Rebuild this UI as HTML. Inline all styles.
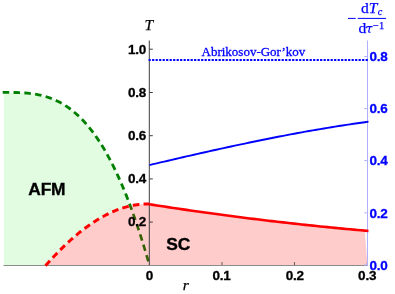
<!DOCTYPE html>
<html><head><meta charset="utf-8"><title>Phase diagram</title>
<style>
html,body{margin:0;padding:0;background:#fff;}
svg{display:block;will-change:transform;}
text{font-family:"Liberation Sans",sans-serif;}
.b{font-weight:bold;font-size:13.5px;letter-spacing:-0.2px;stroke-width:0.3px;}
.s{font-family:"Liberation Serif",serif;}
</style></head><body>
<svg width="395" height="294" viewBox="0 0 395 294">
<rect width="395" height="294" fill="#fff"/>
<path d="M3.8,92.40 L3.40,92.40 L5.25,92.40 L7.10,92.40 L8.94,92.41 L10.79,92.42 L12.64,92.44 L14.49,92.48 L16.34,92.52 L18.18,92.58 L20.03,92.66 L21.88,92.75 L23.73,92.87 L25.58,93.01 L27.43,93.17 L29.27,93.36 L31.12,93.58 L32.97,93.84 L34.82,94.12 L36.67,94.44 L38.51,94.80 L40.36,95.20 L42.21,95.65 L44.06,96.13 L45.91,96.66 L47.75,97.25 L49.60,97.88 L51.45,98.56 L53.30,99.30 L55.15,100.09 L56.99,100.95 L58.84,101.86 L60.69,102.84 L62.54,103.88 L64.39,105.00 L66.24,106.18 L68.08,107.43 L69.93,108.75 L71.78,110.15 L73.63,111.63 L75.48,113.19 L77.32,114.83 L79.17,116.56 L81.02,118.37 L82.87,120.27 L84.72,122.26 L86.56,124.34 L88.41,126.51 L90.26,128.79 L92.11,131.16 L93.96,133.63 L95.81,136.21 L97.65,138.89 L99.50,141.68 L101.35,144.58 L103.20,147.59 L105.05,150.71 L106.89,153.95 L108.74,157.31 L110.59,160.78 L112.44,164.38 L114.29,168.10 L116.13,171.95 L117.98,175.93 L119.83,180.04 L121.68,184.28 L123.53,188.65 L125.37,193.16 L127.22,197.81 L129.07,202.60 L130.92,207.54 L132.77,212.61 L134.62,217.84 L136.46,223.22 L138.31,228.74 L140.16,234.42 L142.01,240.26 L143.86,246.25 L145.70,252.41 L147.55,258.72 L149.40,265.20 L149.40,265.20 L3.8,265.20 Z" fill="#e1fce1"/>
<path d="M2.7,92.40 L3.40,92.40 L5.25,92.40 L7.10,92.40 L8.94,92.41 L10.79,92.42 L12.64,92.44 L14.49,92.48 L16.34,92.52 L18.18,92.58 L20.03,92.66 L21.88,92.75 L23.73,92.87 L25.58,93.01 L27.43,93.17 L29.27,93.36 L31.12,93.58 L32.97,93.84 L34.82,94.12 L36.67,94.44 L38.51,94.80 L40.36,95.20 L42.21,95.65 L44.06,96.13 L45.91,96.66 L47.75,97.25 L49.60,97.88 L51.45,98.56 L53.30,99.30 L55.15,100.09 L56.99,100.95 L58.84,101.86 L60.69,102.84 L62.54,103.88 L64.39,105.00 L66.24,106.18 L68.08,107.43 L69.93,108.75 L71.78,110.15 L73.63,111.63 L75.48,113.19 L77.32,114.83 L79.17,116.56 L81.02,118.37 L82.87,120.27 L84.72,122.26 L86.56,124.34 L88.41,126.51 L90.26,128.79 L92.11,131.16 L93.96,133.63 L95.81,136.21 L97.65,138.89 L99.50,141.68 L101.35,144.58 L103.20,147.59 L105.05,150.71 L106.89,153.95 L108.74,157.31 L110.59,160.78 L112.44,164.38 L114.29,168.10 L116.13,171.95 L117.98,175.93 L119.83,180.04 L121.68,184.28 L123.53,188.65 L125.37,193.16 L127.22,197.81 L129.07,202.60 L130.92,207.54 L132.77,212.61 L134.62,217.84 L136.46,223.22 L138.31,228.74 L140.16,234.42 L142.01,240.26 L143.86,246.25 L145.70,252.41 L147.55,258.72 L149.40,265.20" stroke="#007f00" stroke-width="2.8" stroke-dasharray="6.5 4.33" fill="none"/>
<path d="M45.50,265.68 L47.26,263.70 L49.02,261.74 L50.78,259.80 L52.54,257.90 L54.31,256.03 L56.07,254.18 L57.83,252.37 L59.59,250.58 L61.35,248.82 L63.11,247.10 L64.87,245.40 L66.63,243.74 L68.39,242.10 L70.15,240.50 L71.92,238.93 L73.68,237.39 L75.44,235.88 L77.20,234.40 L78.96,232.96 L80.72,231.54 L82.48,230.16 L84.24,228.81 L86.00,227.50 L87.76,226.22 L89.53,224.97 L91.29,223.75 L93.05,222.57 L94.81,221.42 L96.57,220.31 L98.33,219.23 L100.09,218.19 L101.85,217.18 L103.61,216.21 L105.37,215.27 L107.14,214.36 L108.90,213.50 L110.66,212.66 L112.42,211.87 L114.18,211.11 L115.94,210.39 L117.70,209.70 L119.46,209.05 L121.22,208.44 L122.98,207.87 L124.75,207.33 L126.51,206.83 L128.27,206.37 L130.03,205.95 L131.79,205.57 L133.55,205.23 L135.31,204.92 L137.07,204.66 L138.83,204.43 L140.59,204.24 L142.36,204.09 L144.12,203.99 L145.88,203.92 L147.64,203.90 L149.40,203.91 L149.40,204.27 L153.11,204.85 L156.83,205.43 L160.54,206.00 L164.25,206.57 L167.97,207.14 L171.68,207.70 L175.39,208.25 L179.11,208.80 L182.82,209.35 L186.54,209.89 L190.25,210.43 L193.96,210.96 L197.68,211.49 L201.39,212.01 L205.10,212.53 L208.82,213.05 L212.53,213.56 L216.24,214.06 L219.96,214.56 L223.67,215.06 L227.38,215.55 L231.10,216.04 L234.81,216.53 L238.53,217.00 L242.24,217.48 L245.95,217.95 L249.67,218.42 L253.38,218.88 L257.09,219.33 L260.81,219.79 L264.52,220.23 L268.23,220.68 L271.95,221.12 L275.66,221.55 L279.37,221.98 L283.09,222.41 L286.80,222.83 L290.52,223.24 L294.23,223.66 L297.94,224.06 L301.66,224.47 L305.37,224.87 L309.08,225.26 L312.80,225.65 L316.51,226.04 L320.22,226.42 L323.94,226.79 L327.65,227.16 L331.36,227.53 L335.08,227.89 L338.79,228.25 L342.51,228.61 L346.22,228.96 L349.93,229.30 L353.65,229.64 L357.36,229.98 L361.07,230.31 L364.79,230.64 L367.5,265.20 L45.50,265.20 Z" fill="#ffffff"/>
<clipPath id="pc"><path d="M45.50,265.68 L47.26,263.70 L49.02,261.74 L50.78,259.80 L52.54,257.90 L54.31,256.03 L56.07,254.18 L57.83,252.37 L59.59,250.58 L61.35,248.82 L63.11,247.10 L64.87,245.40 L66.63,243.74 L68.39,242.10 L70.15,240.50 L71.92,238.93 L73.68,237.39 L75.44,235.88 L77.20,234.40 L78.96,232.96 L80.72,231.54 L82.48,230.16 L84.24,228.81 L86.00,227.50 L87.76,226.22 L89.53,224.97 L91.29,223.75 L93.05,222.57 L94.81,221.42 L96.57,220.31 L98.33,219.23 L100.09,218.19 L101.85,217.18 L103.61,216.21 L105.37,215.27 L107.14,214.36 L108.90,213.50 L110.66,212.66 L112.42,211.87 L114.18,211.11 L115.94,210.39 L117.70,209.70 L119.46,209.05 L121.22,208.44 L122.98,207.87 L124.75,207.33 L126.51,206.83 L128.27,206.37 L130.03,205.95 L131.79,205.57 L133.55,205.23 L135.31,204.92 L137.07,204.66 L138.83,204.43 L140.59,204.24 L142.36,204.09 L144.12,203.99 L145.88,203.92 L147.64,203.90 L149.40,203.91 L149.40,204.27 L153.11,204.85 L156.83,205.43 L160.54,206.00 L164.25,206.57 L167.97,207.14 L171.68,207.70 L175.39,208.25 L179.11,208.80 L182.82,209.35 L186.54,209.89 L190.25,210.43 L193.96,210.96 L197.68,211.49 L201.39,212.01 L205.10,212.53 L208.82,213.05 L212.53,213.56 L216.24,214.06 L219.96,214.56 L223.67,215.06 L227.38,215.55 L231.10,216.04 L234.81,216.53 L238.53,217.00 L242.24,217.48 L245.95,217.95 L249.67,218.42 L253.38,218.88 L257.09,219.33 L260.81,219.79 L264.52,220.23 L268.23,220.68 L271.95,221.12 L275.66,221.55 L279.37,221.98 L283.09,222.41 L286.80,222.83 L290.52,223.24 L294.23,223.66 L297.94,224.06 L301.66,224.47 L305.37,224.87 L309.08,225.26 L312.80,225.65 L316.51,226.04 L320.22,226.42 L323.94,226.79 L327.65,227.16 L331.36,227.53 L335.08,227.89 L338.79,228.25 L342.51,228.61 L346.22,228.96 L349.93,229.30 L353.65,229.64 L357.36,229.98 L361.07,230.31 L364.79,230.64 L367.5,265.20 L45.50,265.20 Z"/></clipPath>
<path d="M2.7,92.40 L3.40,92.40 L5.25,92.40 L7.10,92.40 L8.94,92.41 L10.79,92.42 L12.64,92.44 L14.49,92.48 L16.34,92.52 L18.18,92.58 L20.03,92.66 L21.88,92.75 L23.73,92.87 L25.58,93.01 L27.43,93.17 L29.27,93.36 L31.12,93.58 L32.97,93.84 L34.82,94.12 L36.67,94.44 L38.51,94.80 L40.36,95.20 L42.21,95.65 L44.06,96.13 L45.91,96.66 L47.75,97.25 L49.60,97.88 L51.45,98.56 L53.30,99.30 L55.15,100.09 L56.99,100.95 L58.84,101.86 L60.69,102.84 L62.54,103.88 L64.39,105.00 L66.24,106.18 L68.08,107.43 L69.93,108.75 L71.78,110.15 L73.63,111.63 L75.48,113.19 L77.32,114.83 L79.17,116.56 L81.02,118.37 L82.87,120.27 L84.72,122.26 L86.56,124.34 L88.41,126.51 L90.26,128.79 L92.11,131.16 L93.96,133.63 L95.81,136.21 L97.65,138.89 L99.50,141.68 L101.35,144.58 L103.20,147.59 L105.05,150.71 L106.89,153.95 L108.74,157.31 L110.59,160.78 L112.44,164.38 L114.29,168.10 L116.13,171.95 L117.98,175.93 L119.83,180.04 L121.68,184.28 L123.53,188.65 L125.37,193.16 L127.22,197.81 L129.07,202.60 L130.92,207.54 L132.77,212.61 L134.62,217.84 L136.46,223.22 L138.31,228.74 L140.16,234.42 L142.01,240.26 L143.86,246.25 L145.70,252.41 L147.55,258.72 L149.40,265.20" stroke="#007800" stroke-width="2.6" stroke-dasharray="6.5 4.33" fill="none" clip-path="url(#pc)"/>
<path d="M45.50,265.68 L47.26,263.70 L49.02,261.74 L50.78,259.80 L52.54,257.90 L54.31,256.03 L56.07,254.18 L57.83,252.37 L59.59,250.58 L61.35,248.82 L63.11,247.10 L64.87,245.40 L66.63,243.74 L68.39,242.10 L70.15,240.50 L71.92,238.93 L73.68,237.39 L75.44,235.88 L77.20,234.40 L78.96,232.96 L80.72,231.54 L82.48,230.16 L84.24,228.81 L86.00,227.50 L87.76,226.22 L89.53,224.97 L91.29,223.75 L93.05,222.57 L94.81,221.42 L96.57,220.31 L98.33,219.23 L100.09,218.19 L101.85,217.18 L103.61,216.21 L105.37,215.27 L107.14,214.36 L108.90,213.50 L110.66,212.66 L112.42,211.87 L114.18,211.11 L115.94,210.39 L117.70,209.70 L119.46,209.05 L121.22,208.44 L122.98,207.87 L124.75,207.33 L126.51,206.83 L128.27,206.37 L130.03,205.95 L131.79,205.57 L133.55,205.23 L135.31,204.92 L137.07,204.66 L138.83,204.43 L140.59,204.24 L142.36,204.09 L144.12,203.99 L145.88,203.92 L147.64,203.90 L149.40,203.91 L149.40,204.27 L153.11,204.85 L156.83,205.43 L160.54,206.00 L164.25,206.57 L167.97,207.14 L171.68,207.70 L175.39,208.25 L179.11,208.80 L182.82,209.35 L186.54,209.89 L190.25,210.43 L193.96,210.96 L197.68,211.49 L201.39,212.01 L205.10,212.53 L208.82,213.05 L212.53,213.56 L216.24,214.06 L219.96,214.56 L223.67,215.06 L227.38,215.55 L231.10,216.04 L234.81,216.53 L238.53,217.00 L242.24,217.48 L245.95,217.95 L249.67,218.42 L253.38,218.88 L257.09,219.33 L260.81,219.79 L264.52,220.23 L268.23,220.68 L271.95,221.12 L275.66,221.55 L279.37,221.98 L283.09,222.41 L286.80,222.83 L290.52,223.24 L294.23,223.66 L297.94,224.06 L301.66,224.47 L305.37,224.87 L309.08,225.26 L312.80,225.65 L316.51,226.04 L320.22,226.42 L323.94,226.79 L327.65,227.16 L331.36,227.53 L335.08,227.89 L338.79,228.25 L342.51,228.61 L346.22,228.96 L349.93,229.30 L353.65,229.64 L357.36,229.98 L361.07,230.31 L364.79,230.64 L367.5,265.20 L45.50,265.20 Z" fill="#ff0000" fill-opacity="0.2"/>
<!-- axes -->
<g stroke="#3c3c3c" stroke-width="1" fill="none">
<line x1="3.5" y1="265.5" x2="367.5" y2="265.5" stroke="#8c8c8c"/>
<line x1="149.3" y1="40.5" x2="149.3" y2="265.5"/>
<path d="M149.5,49.2h3.3M149.5,92.5h3.3M149.5,135.7h3.3M149.5,178.9h3.3M149.5,222.1h3.3"/>
<path d="M222,265.3v-3.3M294.5,265.3v-3.3M367.3,265.3v-3.3" stroke="#6a6060"/>
</g>
<g stroke="#b0b0ff" stroke-width="1" fill="none">
<line x1="367.5" y1="40.5" x2="367.5" y2="265.5"/>
<path d="M367.5,56.5h-3.3M367.5,108.6h-3.3M367.5,160.6h-3.3M367.5,212.9h-3.3M367.5,265h-3.3"/>
</g>
<!-- curves -->
<path d="M148.6,60.1H368" stroke="#0000ff" stroke-width="2" stroke-dasharray="2.2 1.3" fill="none"/>
<path d="M149.40,165.06 L153.11,164.19 L156.83,163.31 L160.54,162.44 L164.25,161.57 L167.97,160.71 L171.68,159.84 L175.39,158.98 L179.11,158.12 L182.82,157.26 L186.54,156.41 L190.25,155.56 L193.96,154.72 L197.68,153.87 L201.39,153.03 L205.10,152.20 L208.82,151.37 L212.53,150.54 L216.24,149.72 L219.96,148.90 L223.67,148.09 L227.38,147.28 L231.10,146.47 L234.81,145.68 L238.53,144.88 L242.24,144.09 L245.95,143.31 L249.67,142.54 L253.38,141.77 L257.09,141.00 L260.81,140.24 L264.52,139.49 L268.23,138.75 L271.95,138.01 L275.66,137.28 L279.37,136.55 L283.09,135.84 L286.80,135.13 L290.52,134.42 L294.23,133.73 L297.94,133.04 L301.66,132.36 L305.37,131.69 L309.08,131.03 L312.80,130.38 L316.51,129.73 L320.22,129.09 L323.94,128.47 L327.65,127.85 L331.36,127.24 L335.08,126.64 L338.79,126.05 L342.51,125.47 L346.22,124.89 L349.93,124.33 L353.65,123.78 L357.36,123.24 L361.07,122.71 L364.79,122.19 L368.50,121.68" stroke="#0000ff" stroke-width="1.9" fill="none"/>
<path d="M149.40,204.27 L153.11,204.85 L156.83,205.43 L160.54,206.00 L164.25,206.57 L167.97,207.14 L171.68,207.70 L175.39,208.25 L179.11,208.80 L182.82,209.35 L186.54,209.89 L190.25,210.43 L193.96,210.96 L197.68,211.49 L201.39,212.01 L205.10,212.53 L208.82,213.05 L212.53,213.56 L216.24,214.06 L219.96,214.56 L223.67,215.06 L227.38,215.55 L231.10,216.04 L234.81,216.53 L238.53,217.00 L242.24,217.48 L245.95,217.95 L249.67,218.42 L253.38,218.88 L257.09,219.33 L260.81,219.79 L264.52,220.23 L268.23,220.68 L271.95,221.12 L275.66,221.55 L279.37,221.98 L283.09,222.41 L286.80,222.83 L290.52,223.24 L294.23,223.66 L297.94,224.06 L301.66,224.47 L305.37,224.87 L309.08,225.26 L312.80,225.65 L316.51,226.04 L320.22,226.42 L323.94,226.79 L327.65,227.16 L331.36,227.53 L335.08,227.89 L338.79,228.25 L342.51,228.61 L346.22,228.96 L349.93,229.30 L353.65,229.64 L357.36,229.98 L361.07,230.31 L364.79,230.64 L368.50,230.96" stroke="#ff0000" stroke-width="2.6" fill="none"/>
<path d="M45.50,265.68 L47.26,263.70 L49.02,261.74 L50.78,259.80 L52.54,257.90 L54.31,256.03 L56.07,254.18 L57.83,252.37 L59.59,250.58 L61.35,248.82 L63.11,247.10 L64.87,245.40 L66.63,243.74 L68.39,242.10 L70.15,240.50 L71.92,238.93 L73.68,237.39 L75.44,235.88 L77.20,234.40 L78.96,232.96 L80.72,231.54 L82.48,230.16 L84.24,228.81 L86.00,227.50 L87.76,226.22 L89.53,224.97 L91.29,223.75 L93.05,222.57 L94.81,221.42 L96.57,220.31 L98.33,219.23 L100.09,218.19 L101.85,217.18 L103.61,216.21 L105.37,215.27 L107.14,214.36 L108.90,213.50 L110.66,212.66 L112.42,211.87 L114.18,211.11 L115.94,210.39 L117.70,209.70 L119.46,209.05 L121.22,208.44 L122.98,207.87 L124.75,207.33 L126.51,206.83 L128.27,206.37 L130.03,205.95 L131.79,205.57 L133.55,205.23 L135.31,204.92 L137.07,204.66 L138.83,204.43 L140.59,204.24 L142.36,204.09 L144.12,203.99 L145.88,203.92 L147.64,203.90 L149.40,203.91" stroke="#ff0000" stroke-width="3" stroke-dasharray="6.6 4.2" fill="none"/>
<!-- labels -->
<g class="b" fill="#000" stroke="#000" text-anchor="end">
<text x="146.2" y="53.5">1.0</text>
<text x="146.2" y="96.7">0.8</text>
<text x="146.2" y="139.9">0.6</text>
<text x="146.2" y="183.1">0.4</text>
<text x="146.2" y="226.3">0.2</text>
</g>
<g class="b" fill="#000" stroke="#000" text-anchor="middle">
<text x="149.3" y="280.4">0</text>
<text x="221.5" y="280.4">0.1</text>
<text x="294.8" y="280.4">0.2</text>
<text x="367.2" y="280.4">0.3</text>
</g>
<g class="b" fill="#0000ff" stroke="#0000ff">
<text x="369.5" y="60.7">0.8</text>
<text x="369.5" y="112.9">0.6</text>
<text x="369.5" y="165.2">0.4</text>
<text x="369.5" y="217.6">0.2</text>
<text x="369.5" y="269.5">0.0</text>
</g>
<text x="28.3" y="195.2" font-weight="bold" font-size="17.4" stroke="#000" stroke-width="0.35" letter-spacing="-0.2">AFM</text>
<text x="166.3" y="249.5" font-weight="bold" font-size="17.4" stroke="#000" stroke-width="0.35" letter-spacing="-0.2">SC</text>
<text class="s" x="144.6" y="29.5" font-style="italic" font-size="15.5" stroke="#000" stroke-width="0.25">T</text>
<text class="s" x="182.7" y="290" font-style="italic" font-size="15.5" stroke="#000" stroke-width="0.25">r</text>
<text class="s" x="201.5" y="55.6" font-size="13" fill="#0000ff" stroke="#0000ff" stroke-width="0.3">Abrikosov-Gor’kov</text>
<!-- fraction label -->
<g fill="#0000ff" class="s">
<path d="M348,18.4h7.7" stroke="#0000ff" stroke-width="1"/>
<path d="M357.7,18.4h28.4" stroke="#0000ff" stroke-width="1"/>
<text class="s" x="361" y="12.6" font-size="15.5" stroke="#0000ff" stroke-width="0.25"><tspan>d</tspan><tspan font-style="italic">T</tspan><tspan font-style="italic" font-size="10.2" dy="2.5" dx="0.3">c</tspan></text>
<text class="s" x="358.6" y="32.6" font-size="15.5" stroke="#0000ff" stroke-width="0.25">d</text>
<path d="M365.9,28 Q366.4,26.6 368,26.6 L372.6,26.6 M370,26.7 L368.7,31.3 Q368.5,32.5 370.5,32.2" stroke="#0000ff" stroke-width="1.15" fill="none"/>
<text class="s" x="373.1" y="28.7" font-size="10.5" stroke="#0000ff" stroke-width="0.25">−1</text>
</g>
</svg>
</body></html>
